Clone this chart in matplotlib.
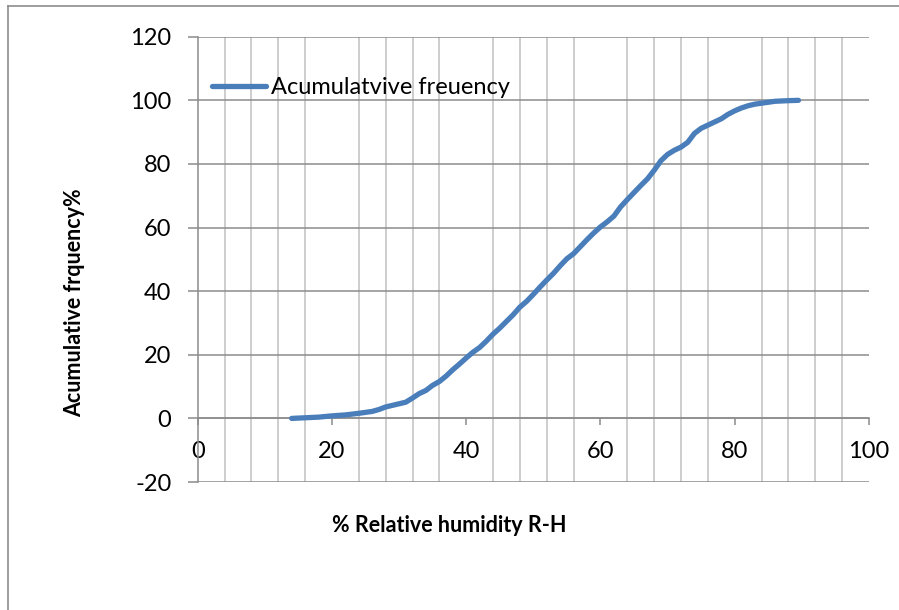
import matplotlib
matplotlib.use('Agg')
import matplotlib.pyplot as plt
from matplotlib.lines import Line2D
from matplotlib.ticker import MultipleLocator

plt.rcParams['font.family'] = ['Lato', 'DejaVu Sans']

# relative humidity (%) and cumulative frequency (%)
rh = [14, 16, 18, 20, 22, 24, 26, 27, 28, 29, 30, 31, 32, 33, 34, 35, 36, 37, 38, 39,
      40, 41, 42, 43, 44, 45, 46, 47, 48, 49, 50, 51, 52, 53, 54, 55, 56, 57, 58, 59,
      60, 61, 62, 63, 64, 65, 66, 67, 68, 69, 70, 71, 72, 73, 74, 75, 76, 77, 78, 79,
      80, 81, 82, 83, 84, 85, 86, 88, 89.5]
cum_freq = [0, 0.2, 0.4, 0.8, 1.1, 1.6, 2.2, 2.8, 3.6, 4.1, 4.6, 5.1, 6.4, 7.8, 8.8, 10.4, 11.6, 13.3, 15.3, 17.1,
            19.0, 20.8, 22.3, 24.3, 26.5, 28.4, 30.5, 32.6, 35.0, 36.8, 39.0, 41.3, 43.5, 45.6, 48.0, 50.2, 51.8, 54.0, 56.2, 58.3,
            60.2, 61.8, 63.6, 66.5, 68.8, 71.0, 73.2, 75.3, 78.0, 81.0, 83.0, 84.3, 85.3, 86.8, 89.6, 91.2, 92.2, 93.2, 94.2, 95.6,
            96.7, 97.6, 98.3, 98.8, 99.1, 99.4, 99.7, 99.9, 100.0]

x_ticks = [0, 20, 40, 60, 80, 100]
y_ticks = [-20, 0, 20, 40, 60, 80, 100, 120]

fig = plt.figure(figsize=(8.99, 6.10), dpi=100)
ax = fig.add_axes([0.2199, 0.2098, 0.7467, 0.7300])

ax.plot(rh, cum_freq, color='#4a7ebb', lw=3.8, solid_capstyle='round',
        solid_joinstyle='round', label='Acumulatvive freuency', zorder=5)

ax.set_xlim(0, 100)
ax.set_ylim(-20, 120)
ax.set_xticks(x_ticks)
ax.set_yticks(y_ticks)
ax.set_yticklabels([str(v) for v in y_ticks])  # plain hyphen minus like Excel
ax.xaxis.set_minor_locator(MultipleLocator(4))

ax.grid(axis='y', which='major', color='#8c8c8c', lw=1.1)
ax.grid(axis='x', which='minor', color='#c0c0c0', lw=1.1)
ax.set_axisbelow(True)

for s in ['top', 'right']:
    ax.spines[s].set_visible(False)
ax.spines['bottom'].set_position(('data', 0))
ax.spines['bottom'].set_color('#8c8c8c')
ax.spines['left'].set_color('#8c8c8c')
ax.spines['bottom'].set_linewidth(1.1)
ax.spines['left'].set_linewidth(1.1)

ax.tick_params(axis='x', which='major', direction='out', length=5, width=1.1,
               color='#8c8c8c', pad=11, labelsize=17)
ax.tick_params(axis='x', which='minor', length=0)
ax.tick_params(axis='y', direction='out', length=7, width=1.1,
               color='#8c8c8c', pad=12, labelsize=17)

ax.legend(loc='center left', bbox_to_anchor=(0.0213, 0.885), frameon=False,
          fontsize=17, handlelength=2.3, handletextpad=0.18,
          borderpad=0, borderaxespad=0)

fig.text(449 / 899, 1 - 525 / 610, '% Relative humidity R-H', ha='center',
         va='center', fontsize=15.5, fontweight='bold')
fig.text(75 / 899, 1 - 303 / 610, 'Acumulative frquency%', ha='center',
         va='center', rotation=90, fontsize=15.5, fontweight='bold')

# outer chart frame (left and top edges only are visible)
fig.add_artist(Line2D([8 / 899, 8 / 899], [0, 1 - 6 / 610], color='#8c8c8c', lw=1.2))
fig.add_artist(Line2D([8 / 899, 1], [1 - 6 / 610, 1 - 6 / 610], color='#8c8c8c', lw=1.2))

fig.savefig('out.png', dpi=100)
